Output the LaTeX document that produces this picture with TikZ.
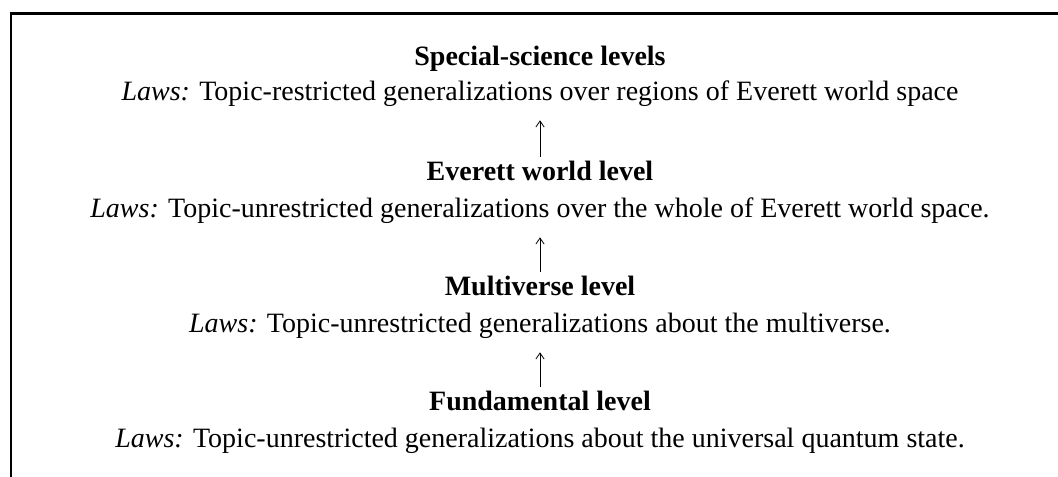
\documentclass[tikz,border=0pt]{standalone}
\usepackage{fontspec}
\setmainfont{Liberation Serif}
\usepackage{tikz}
\usetikzlibrary{arrows.meta}

\begin{document}
\begin{tikzpicture}[x=0.75pt,y=0.75pt,
level/.style={font=\fontsize{21}{25}\selectfont\bfseries,inner sep=0pt,text height=0.75em,text depth=0.25em,anchor=base},
law/.style={font=\fontsize{21}{25}\selectfont,inner sep=0pt,text height=0.75em,text depth=0.25em,anchor=base},
arr/.style={-{Straight Barb[length=1.6mm,width=2.2mm]},line width=0.6pt,shorten <=10.3pt,shorten >=11.8pt},
frame/.style={line width=1.8pt}
]
\useasboundingbox (0,0) rectangle (1058,477);
\draw[frame] (11,0) -- (11,463.5) -- (1058,463.5);

\node[level] (special) at (540,411) {Special-science levels};
\node[law] (speciallaw) at (540,376) {\textit{Laws:} Topic-restricted generalizations over regions of Everett world space};
\node[level] (everett) at (540,296) {Everett world level};
\node[law] (everettlaw) at (540,259) {\textit{Laws:} Topic-unrestricted generalizations over the whole of Everett world space.};
\node[level] (multi) at (540,181) {Multiverse level};
\node[law] (multilaw) at (540,144) {\textit{Laws:} Topic-unrestricted generalizations about the multiverse.};
\node[level] (fund) at (540,66) {Fundamental level};
\node[law] (fundlaw) at (540,29) {\textit{Laws:} Topic-unrestricted generalizations about the universal quantum state.};

\draw[arr] (everett) -- (speciallaw);
\draw[arr] (multi) -- (everettlaw);
\draw[arr] (fund) -- (multilaw);
\end{tikzpicture}
\end{document}
